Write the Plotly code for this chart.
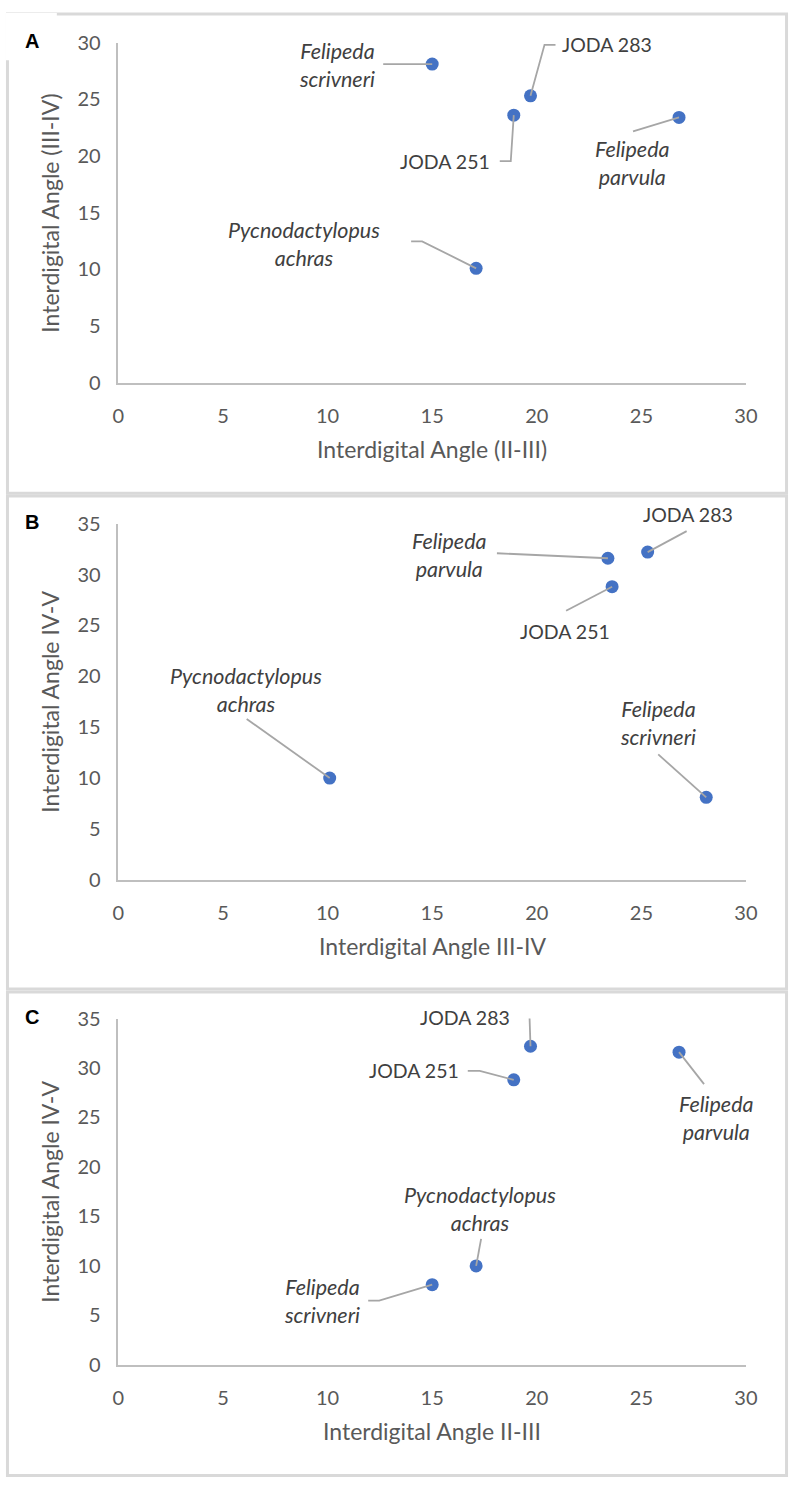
import plotly.graph_objects as go

# ---------------- data ----------------
species = ["Felipeda scrivneri", "JODA 283", "JODA 251", "Felipeda parvula", "Pycnodactylopus achras"]
label_text = ["<i>Felipeda<br>scrivneri</i>", "JODA 283", "JODA 251",
              "<i>Felipeda<br>parvula</i>", "<i>Pycnodactylopus<br>achras</i>"]
angle_II_III = [15.0, 19.7, 18.9, 26.8, 17.1]
angle_III_IV = [28.1, 25.3, 23.6, 23.4, 10.1]
angle_IV_V = [8.1, 32.2, 28.8, 31.6, 10.0]
x_ticks = [0, 5, 10, 15, 20, 25, 30]

# ---------------- layout (pixels) ----------------
W, H = 800, 1488
PLOT_L, PLOT_R = 115, 757
FONT = "Lato"
TICK_COLOR = "#595959"
LABEL_COLOR = "#404040"
LEADER = "#a6a6a6"
FRAME = "#d9d9d9"

# label offsets (dx, dy screen px from point) and leader polylines (screen px from point)
lab_A = [(-95, 1, [(-49, 0)]),
         (76, -51, [(14, -51), (25, -51)]),
         (-69, 46, [(-3, 46), (-14, 46)]),
         (-47, 46, [(-46, 14)]),
         (-172, -24, [(-54, -27), (-65, -27)])]
lab_B = [(-48, -74, [(-48, -43)]),
         (40, -38, [(39, -21)]),
         (-47, 45, [(-46, 24)]),
         (-158, -3, [(-111, -5)]),
         (-84, -88, [(-83, -59)])]
lab_C = [(-110, 16, [(-53, 16), (-64, 16)]),
         (-66, -29, [(-1, -30), (-13, -30)]),
         (-100, -9, [(-34, -9), (-46, -9)]),
         (37, 66, [(25, 32)]),
         (4, -57, [(5, -27)])]

panels = [
    dict(letter="A", x=angle_II_III, y=angle_III_IV, ymax=30,
         xtitle="Interdigital Angle (II-III)", ytitle="Interdigital Angle (III-IV)",
         top=30, bottom=376, frame=(1, 488), labels=lab_A),
    dict(letter="B", x=angle_III_IV, y=angle_IV_V, ymax=35,
         xtitle="Interdigital Angle III-IV", ytitle="Interdigital Angle IV-V",
         top=519, bottom=881, frame=(491, 992), labels=lab_B),
    dict(letter="C", x=angle_II_III, y=angle_IV_V, ymax=35,
         xtitle="Interdigital Angle II-III", ytitle="Interdigital Angle IV-V",
         top=1022, bottom=1374, frame=(995, 1486.5), labels=lab_C),
]


def pxx(v):
    return v / W


def pxy(v):
    return 1 - v / H


fig = go.Figure()
annotations = []
shapes = []

for i, p in enumerate(panels):
    n = "" if i == 0 else str(i + 1)
    xa, ya = "x" + n, "y" + n
    fig.add_trace(go.Scatter(
        x=p["x"], y=p["y"], mode="markers", text=species,
        marker=dict(size=13, color="#4472C4", line=dict(width=0)),
        xaxis=xa, yaxis=ya, showlegend=False, hoverinfo="text+x+y"))

    axis_common = dict(showgrid=False, zeroline=False, showline=True,
                       linecolor="#bfbfbf", linewidth=1.5, ticks="",
                       tickfont=dict(family=FONT, size=20, color=TICK_COLOR),
                       fixedrange=True)
    fig.update_layout({
        "xaxis" + n: dict(domain=[pxx(PLOT_L), pxx(PLOT_R)], range=[0, 30],
                          tickvals=x_ticks, anchor=ya, ticklabelstandoff=14, **axis_common),
        "yaxis" + n: dict(domain=[pxy(p["bottom"]), pxy(p["top"])], range=[0, p["ymax"]],
                          tickvals=list(range(0, p["ymax"] + 1, 5)), anchor=xa,
                          ticklabelstandoff=12, **axis_common),
    })

    # axis titles
    annotations.append(dict(xref="paper", yref="paper", x=pxx((PLOT_L + PLOT_R) / 2),
                            y=pxy(p["bottom"] + 67), text=p["xtitle"], showarrow=False,
                            xanchor="center", yanchor="middle",
                            font=dict(family=FONT, size=23, color=TICK_COLOR)))
    annotations.append(dict(xref="paper", yref="paper", x=pxx(45),
                            y=pxy((p["top"] + p["bottom"]) / 2), text=p["ytitle"],
                            showarrow=False, textangle=-90, xanchor="center", yanchor="middle",
                            font=dict(family=FONT, size=23, color=TICK_COLOR)))
    # panel letter
    annotations.append(dict(xref="paper", yref="paper", x=pxx(27), y=pxy(p["top"] - 2),
                            text="<b>" + p["letter"] + "</b>", showarrow=False,
                            xanchor="center", yanchor="middle",
                            font=dict(family="Liberation Sans, Arial", size=20, color="#000000")))

    # data labels with leader lines
    for k in range(len(species)):
        dx, dy, pts = p["labels"][k]
        italic = label_text[k].startswith("<i>")
        annotations.append(dict(xref=xa, yref=ya, x=p["x"][k], y=p["y"][k],
                                xshift=dx, yshift=-dy, text=label_text[k], showarrow=False,
                                xanchor="center", yanchor="middle", align="center",
                                font=dict(family=FONT, size=21.5 if italic else 19.5,
                                          color=LABEL_COLOR)))
        path = "M0,0" + "".join(" L{},{}".format(a, -b) for a, b in pts)
        shapes.append(dict(type="path", xref=xa, yref=ya, xsizemode="pixel",
                           ysizemode="pixel", xanchor=p["x"][k], yanchor=p["y"][k],
                           path=path, line=dict(color=LEADER, width=1.8)))

    # panel frame
    t, b = p["frame"]
    shapes.append(dict(type="rect", xref="paper", yref="paper", x0=pxx(1.5), x1=pxx(798.5),
                       y0=pxy(b), y1=pxy(t), line=dict(color=FRAME, width=3),
                       fillcolor="rgba(0,0,0,0)", layer="below"))

# white box over the top-left corner of panel A frame
shapes.append(dict(type="rect", xref="paper", yref="paper", x0=0, x1=pxx(52),
                   y0=pxy(48), y1=1, line=dict(width=0), fillcolor="white", layer="above"))

fig.update_layout(width=W, height=H, margin=dict(l=0, r=0, t=0, b=0),
                  paper_bgcolor="white", plot_bgcolor="rgba(0,0,0,0)",
                  annotations=annotations, shapes=shapes, showlegend=False)

post = (
    "var s=document.documentElement.style; s.margin='0'; s.padding='0'; s.overflow='hidden';"
    "var b=document.body.style; b.margin='0'; b.padding='0'; b.overflow='hidden';"
    "var d=document.getElementById('{plot_id}'); if(d){d.style.position='fixed';"
    "d.style.left='0px'; d.style.top='0px';}"
)

fig.write_html("out.html", config={"displayModeBar": False}, post_script=post)
